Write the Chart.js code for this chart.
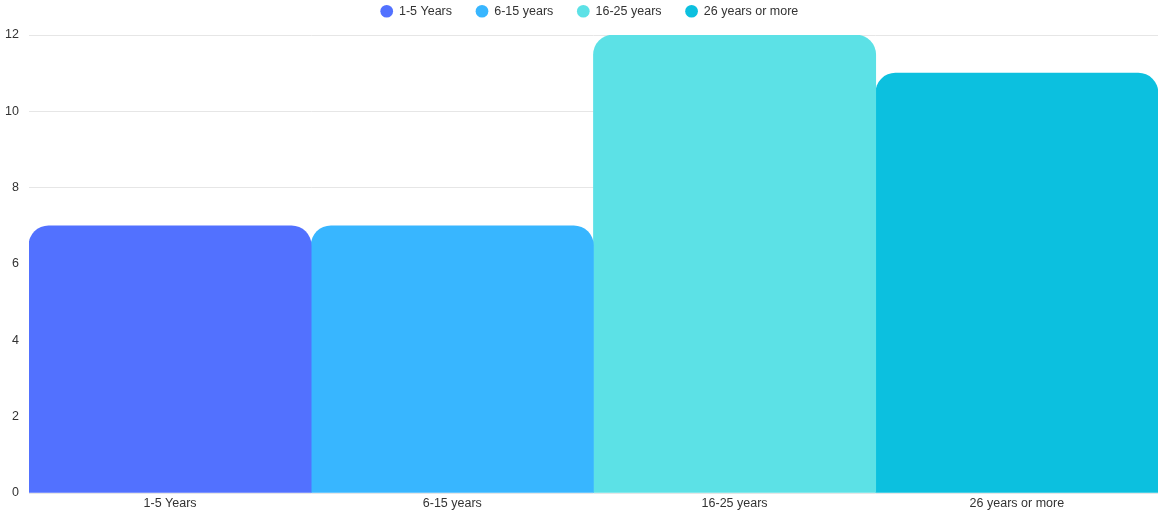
<!DOCTYPE html>
<html>
<head>
<meta charset="utf-8">
<script src="https://cdn.jsdelivr.net/npm/chart.js@4/dist/chart.umd.min.js"></script>
<style>
  html, body { margin: 0; padding: 0; background: #fff; }
  #wrap { position: relative; width: 1158px; height: 514px; }
</style>
</head>
<body>
<div id="wrap"><canvas id="tenure-chart"></canvas></div>
<script>
const categories = ["1-5 Years", "6-15 years", "16-25 years", "26 years or more"];
const counts = [7, 7, 12, 11];
const colors = ["#5271ff", "#38b6ff", "#5ce1e6", "#0cc0df"];
const yTicks = [0, 2, 4, 6, 8, 10, 12];

// one dataset per group so every bar gets its own legend entry
const datasets = categories.map((label, i) => ({
  label,
  data: categories.map((_, j) => (j === i ? counts[i] : null)),
  backgroundColor: colors[i],
  borderRadius: { topLeft: 20, topRight: 20 },
  borderSkipped: "start",
}));

// nudge the legend row into place after layout (keep its bottom so the clip box still covers it)
const legendNudge = {
  id: "legendNudge",
  afterLayout(chart) {
    const lg = chart.legend;
    if (!lg) return;
    lg.top -= 19;
    lg.left += 13;
    lg.right += 13;
  },
};

const textColor = "#333333";
const font = { family: "'Liberation Sans', Arial, sans-serif", size: 12.5 };

new Chart(document.getElementById("tenure-chart"), {
  type: "bar",
  data: { labels: categories, datasets },
  options: {
    responsive: true,
    maintainAspectRatio: false,
    animation: false,
    layout: { padding: { left: -5, right: 0, top: 0, bottom: 0 } },
    datasets: {
      bar: { grouped: false, barPercentage: 1, categoryPercentage: 1 },
    },
    scales: {
      x: {
        grid: { display: false, drawTicks: false },
        border: { display: false },
        ticks: { color: textColor, font, padding: 3 },
      },
      y: {
        min: 0,
        max: 12,
        afterBuildTicks: (axis) => {
          axis.ticks = yTicks.map((v) => ({ value: v }));
        },
        grid: { color: "#e6e6e6", drawTicks: false },
        border: { display: false },
        ticks: { color: textColor, font, padding: 10 },
      },
    },
    plugins: {
      legend: {
        position: "top",
        maxHeight: 35,
        labels: {
          usePointStyle: true,
          pointStyle: "circle",
          boxWidth: 12,
          boxHeight: 9,
          padding: 24,
          color: textColor,
          font,
        },
      },
      tooltip: { enabled: false },
    },
  },
  plugins: [legendNudge],
});
</script>
</body>
</html>
